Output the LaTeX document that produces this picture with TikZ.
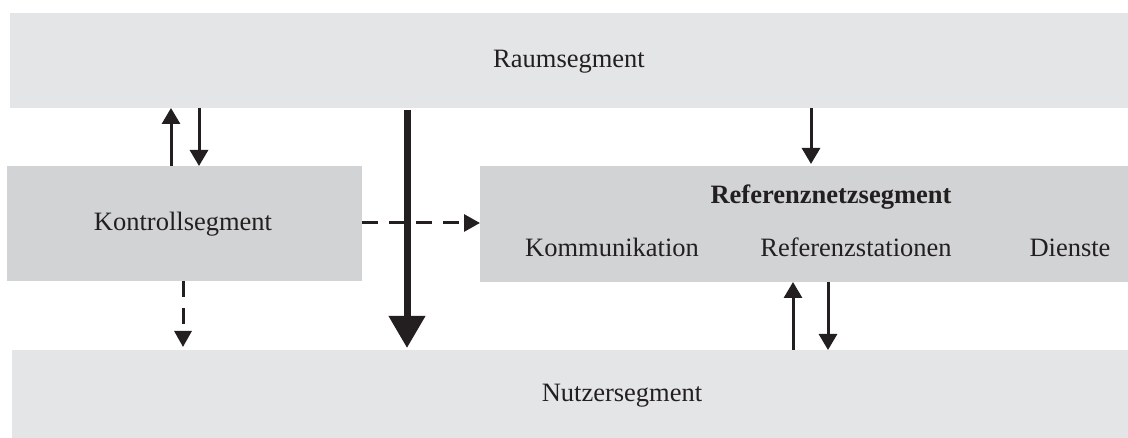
\documentclass[tikz,border=0pt]{standalone}
\usepackage{fontspec}
\setmainfont{Liberation Serif}
\usetikzlibrary{arrows.meta}
\definecolor{lightbox}{RGB}{228,229,230}
\definecolor{darkbox}{RGB}{210,211,213}
\definecolor{ink}{RGB}{35,31,32}
\begin{document}
\begin{tikzpicture}[x=1pt,y=1pt,
  segbox/.style={rectangle,draw=none,inner sep=0pt,outer sep=0pt},
  lbl/.style={inner sep=0pt,anchor=base,text=ink,font=\fontsize{26.5}{30}\selectfont},
  thinarrow/.style={draw=ink,line width=3pt,-{Triangle[length=16pt,width=18pt]}},
  dasharrow/.style={draw=ink,line width=3pt,dash pattern=on 16pt off 11pt,-{Triangle[length=16pt,width=17pt]}},
  thickarrow/.style={draw=ink,line width=7pt,-{Triangle[length=32pt,width=35pt]}}]
\useasboundingbox (0,0) rectangle (1128,438);
% boxes
\node[segbox,fill=lightbox,minimum width=1118pt,minimum height=95pt] (raum) at (569,377.5) {};
\node[segbox,fill=darkbox,minimum width=355pt,minimum height=115pt] (kontroll) at (184.5,214.5) {};
\node[segbox,fill=darkbox,minimum width=648pt,minimum height=116pt] (ref) at (804,214) {};
\node[segbox,fill=lightbox,minimum width=1116pt,minimum height=88pt] (nutzer) at (570,44) {};
% labels
\node[lbl] (raumlbl) at (569,370) {Raumsegment};
\node[lbl] (kontrolllbl) at (183,207) {Kontrollsegment};
\node[lbl,font=\fontsize{26.5}{30}\selectfont\bfseries] (reflbl) at (831,234) {Referenznetzsegment};
\node[lbl] (kommlbl) at (612,181) {Kommunikation};
\node[lbl] (stationlbl) at (856,181) {Referenzstationen};
\node[lbl] (dienstlbl) at (1070,181) {Dienste};
\node[lbl] (nutzerlbl) at (622,36) {Nutzersegment};
% connectors
\draw[thinarrow] (171,0 |- kontroll.north) -- (171,0 |- raum.south);
\draw[thinarrow] (199,0 |- raum.south) -- (199,0 |- kontroll.north);
\draw[thickarrow] ([yshift=-2pt]407,0 |- raum.south) -- ([yshift=2pt]407,0 |- nutzer.north);
\draw[dasharrow] (kontroll.east |- 0,215) -- (ref.west |- 0,215);
\draw[dasharrow] (183,0 |- kontroll.south) -- ([yshift=3pt]183,0 |- nutzer.north);
\draw[thinarrow] (811,0 |- raum.south) -- ([yshift=2pt]811,0 |- ref.north);
\draw[thinarrow] (793,0 |- nutzer.north) -- (793,0 |- ref.south);
\draw[thinarrow] (828,0 |- ref.south) -- (828,0 |- nutzer.north);
\end{tikzpicture}
\end{document}
